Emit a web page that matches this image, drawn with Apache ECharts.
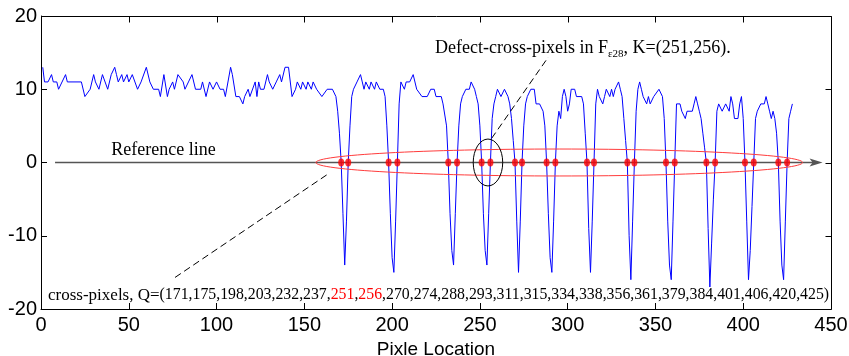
<!DOCTYPE html>
<html>
<head>
<meta charset="utf-8">
<script src="https://cdn.jsdelivr.net/npm/echarts@6/dist/echarts.min.js"></script>
<style>
  html,body{margin:0;padding:0;background:#fff;}
  #main{width:849px;height:356px;}
</style>
</head>
<body>
<div id="main"></div>
<script>
  // 像素位置 / 灰度值
  var pixelLoc=[1,2,4,6,7,9,10,14,15,23,25,26,28,30,31,33,35,36,38,40,42,43,44,46,47,49,50,52,55,57,60,62,64,67,68,70,72,73,75,76,78,81,82,84,86,88,91,92,94,96,98,100,102,104,105,108,109,111,113,115,116,118,119,122,123,124,125,127,129,130,132,134,136,137,139,141,143,145,146,148,149,151,152,154,155,157,158,160,161,163,166,168,169,170,
    171,172,173,174,175,
    176,177,178,180,182,183,184,185,187,188,190,191,193,195,196,197,
    198,199,200,201,202,203,
    204,205,207,208,210,212,214,215,217,220,222,224,225,228,229,230,231,
    232,233,234,235,236,237,
    238,239,240,242,244,245,246,247,248,249,250,
    251,252,253,254,255,256,
    257,258,259,260,261,262,263,264,265,266,267,268,269,
    270,271,272,273,274,
    275,276,277,279,281,282,284,285,286,287,
    288,289,290,291,292,293,
    294,295,296,297,298,299,300,301,302,304,305,306,308,309,310,
    311,312,313,314,315,
    316,317,318,320,321,322,324,325,326,327,329,330,331,332,333,
    334,335,336,337,338,
    339,340,341,342,343,345,346,347,349,350,352,353,354,355,
    356,357,358,359,360,361,
    362,364,365,367,368,371,372,373,374,375,376,377,378,
    379,380,381,382,383,384,
    385,386,387,388,389,390,392,393,394,395,397,398,399,400,
    401,402,403,404,405,406,
    407,408,410,412,413,414,415,416,417,418,419,
    420,421,422,423,424,425,
    426,427,428];
  var grayVal=[13,11,11,12,11,11,10,12,11,11,9,9,10,12,11,10,12,12,10,12,13,12,11,12,11,12,11,12,10,11,13,11,10,10,9,12,9,10,11,10,12,11,10,11,12,10,10,11,9,11,10,11,10,10,9,13,12,9,9,8,9,10,9,11,9,11,10,10,12,11,10,11,12,11,13,13,9,10,11,10,11,10,11,10,11,10,10,9,9,10,10,9,7,4,
    0,-7,-14,-8,0,
    5,9,10,11,12,11,10,11,10,11,10,11,10,10,9,5,
    0,-7,-13,-15,-8,0,
    8,11,10,11,11,12,10,10,9,9,10,10,9,9,8,8,5,
    0,-7,-12,-14,-7,0,
    5,8,9,10,10,11,11,10,9,8,5,
    0,-7,-12,-14,-7,0,
    6,8,9,10,10,9,9,10,10,9,8,6,3,
    0,-8,-15,-8,0,
    5,8,9,10,10,8,8,8,7,5,
    0,-7,-13,-15,-8,0,
    5,7,6,9,10,9,7,8,10,10,9,9,9,8,4,
    0,-9,-15,-8,0,
    8,10,9,8,9,10,9,10,9,10,11,10,9,6,3,
    0,-10,-16,-8,0,
    7,10,11,10,9,8,9,8,9,9,10,10,9,6,
    0,-8,-14,-16,-8,0,
    8,8,7,6,7,7,8,9,8,7,6,4,2,
    0,-9,-17,-11,-5,0,
    7,8,8,7,7,8,7,9,8,6,6,8,9,6,
    0,-8,-16,-12,-6,0,
    6,7,8,8,9,8,7,6,7,6,4,
    0,-8,-14,-16,-8,0,
    6,7,8];
  // cross-pixels Q 和 defect-cross-pixels K
  var crossPixels=[171,175,198,203,232,237,251,256,270,274,288,293,311,315,334,338,356,361,379,384,401,406,420,425];
  var defectPixels=[251,256];
  var xRange=[0,450,50];
  var yRange=[-20,20,10];

  var lineData=pixelLoc.map(function(x,i){return [x,grayVal[i]];});
  var dotData=crossPixels.map(function(x){return [x,0];});

  var serif='Liberation Serif';
  var sans='Liberation Sans';
  var arrowPath='path://M5,0 L10,13 L5,10 L0,13 Z';
  var tickLen=6;

  var axisBase=function(pos,range){
    return {
      type:'value',position:pos,min:range[0],max:range[1],interval:range[2],
      axisLine:{show:true,onZero:false,lineStyle:{color:'#000',width:1}},
      axisTick:{show:true,inside:true,length:tickLen,lineStyle:{color:'#000',width:1}},
      axisLabel:{color:'#000',fontSize:20,fontFamily:sans,margin:6},
      splitLine:{show:false}
    };
  };
  var xBottom=axisBase('bottom',xRange);
  xBottom.name='Pixle Location';
  xBottom.nameLocation='middle';
  xBottom.nameGap=25;
  xBottom.nameTextStyle={color:'#000',fontSize:19,fontFamily:sans};
  var yLeft=axisBase('left',yRange);
  yLeft.axisLabel.margin=4;
  yLeft.name='Gray Value';
  yLeft.nameLocation='middle';
  yLeft.nameGap=11;
  yLeft.nameTextStyle={color:'#000',fontSize:19,fontFamily:sans};

  var chart=echarts.init(document.getElementById('main'));
  chart.setOption({
    animation:false,
    grid:{left:41,right:18,top:16,bottom:47,containLabel:false,outerBoundsMode:'none'},
    xAxis:xBottom,
    yAxis:yLeft,
    series:[
      {
        type:'line',
        data:lineData,
        showSymbol:false,
        silent:true,
        color:'#0000ff',
        lineStyle:{color:'#0000ff',width:1},
        z:2,
        markLine:{
          silent:true,
          label:{show:false},
          animation:false,
          data:[
            // reference line
            [{coord:[8,0],symbol:'none',lineStyle:{color:'#555',width:1.3,type:'solid'}},
             {coord:[441.5,0],symbol:arrowPath,symbolSize:[8,13],itemStyle:{color:'#000'}}],
            // 引线
            [{coord:[256.7,3.3],symbol:'none',lineStyle:{color:'#000',width:1,type:[7,4]}},
             {coord:[289,14.4],symbol:'none'}],
            [{coord:[162.7,-1.7],symbol:'none',lineStyle:{color:'#000',width:1,type:[7,4]}},
             {coord:[76.3,-15.7],symbol:'none'}]
          ]
        }
      },
      {
        type:'scatter',
        data:dotData,
        symbol:'circle',
        symbolSize:[6,8],
        silent:true,
        itemStyle:{color:'#ff0000'},
        z:6
      }
    ]
  });

  var px=function(p){return chart.convertToPixel({gridIndex:0},p);};

  var redC=px([295.2,0]),redE=px([433.8,1.84]);
  var blkC=px([254.6,0]),blkE=px([263,3.2]);
  var refPos=px([69.8,1.7]);
  var defPos=px([224.4,15.6]);
  var crossPos=px([4,-18.1]);

  var qText='{p|cross-pixels, Q=}{n|(}'+crossPixels.map(function(v){
    return defectPixels.indexOf(v)>=0?'{r|'+v+'}':'{n|'+v+'}';
  }).join('{n|,}')+'{n|)}';
  var kText='{a|Defect-cross-pixels in F}{s|ε28}{a|, K=('+defectPixels.join(',')+').}';

  chart.setOption({
    graphic:[
      {type:'ellipse',z:5,silent:true,
       shape:{cx:redC[0],cy:redC[1],rx:redE[0]-redC[0],ry:redC[1]-redE[1]},
       style:{fill:null,stroke:'#ff3b3b',lineWidth:1}},
      {type:'ellipse',z:5,silent:true,
       shape:{cx:blkC[0],cy:blkC[1],rx:blkE[0]-blkC[0],ry:blkC[1]-blkE[1]},
       style:{fill:null,stroke:'#000',lineWidth:1}},
      {type:'text',z:7,silent:true,x:refPos[0],y:refPos[1],
       style:{text:'Reference line',fill:'#000',font:'18px '+serif,align:'center',verticalAlign:'middle'}},
      {type:'text',z:7,silent:true,x:defPos[0],y:defPos[1],
       style:{text:kText,align:'left',verticalAlign:'middle',
         rich:{
           a:{fontSize:18,fontFamily:serif,fill:'#000',lineHeight:22},
           s:{fontSize:11,fontFamily:serif,fill:'#000',verticalAlign:'bottom',lineHeight:22}
         }}},
      {type:'text',z:7,silent:true,x:crossPos[0],y:crossPos[1],
       style:{text:qText,align:'left',verticalAlign:'middle',
         rich:{
           p:{fontSize:17,fontFamily:serif,fill:'#000'},
           n:{fontSize:15.8,fontFamily:serif,fill:'#000'},
           r:{fontSize:15.8,fontFamily:serif,fill:'#ff0000'}
         }}}
    ]
  });

  // 边框 + 上/右刻度 (matlab box): straight onto the zrender layer
  var zr=chart.getZr();
  var tl=px([xRange[0],yRange[1]]),br=px([xRange[1],yRange[0]]);
  var fx0=Math.round(tl[0])+0.5,fy0=Math.round(tl[1])+0.5,fx1=Math.round(br[0])+0.5,fy1=Math.round(br[1])+0.5;
  var edge={stroke:'#000',lineWidth:1};
  zr.add(new echarts.graphic.Polyline({z:50,zlevel:0,silent:true,
    shape:{points:[[fx0,fy0],[fx1,fy0],[fx1,fy1]]},style:{stroke:'#000',lineWidth:1,fill:null}}));
  for(var v=xRange[0];v<=xRange[1];v+=xRange[2]){
    var tx=Math.round(px([v,0])[0])+0.5;
    zr.add(new echarts.graphic.Line({z:50,silent:true,shape:{x1:tx,y1:fy0,x2:tx,y2:fy0+tickLen},style:edge}));
  }
  for(var w=yRange[0];w<=yRange[1];w+=yRange[2]){
    var ty=Math.round(px([0,w])[1])+0.5;
    zr.add(new echarts.graphic.Line({z:50,silent:true,shape:{x1:fx1,y1:ty,x2:fx1-tickLen,y2:ty},style:edge}));
  }
</script>
</body>
</html>
